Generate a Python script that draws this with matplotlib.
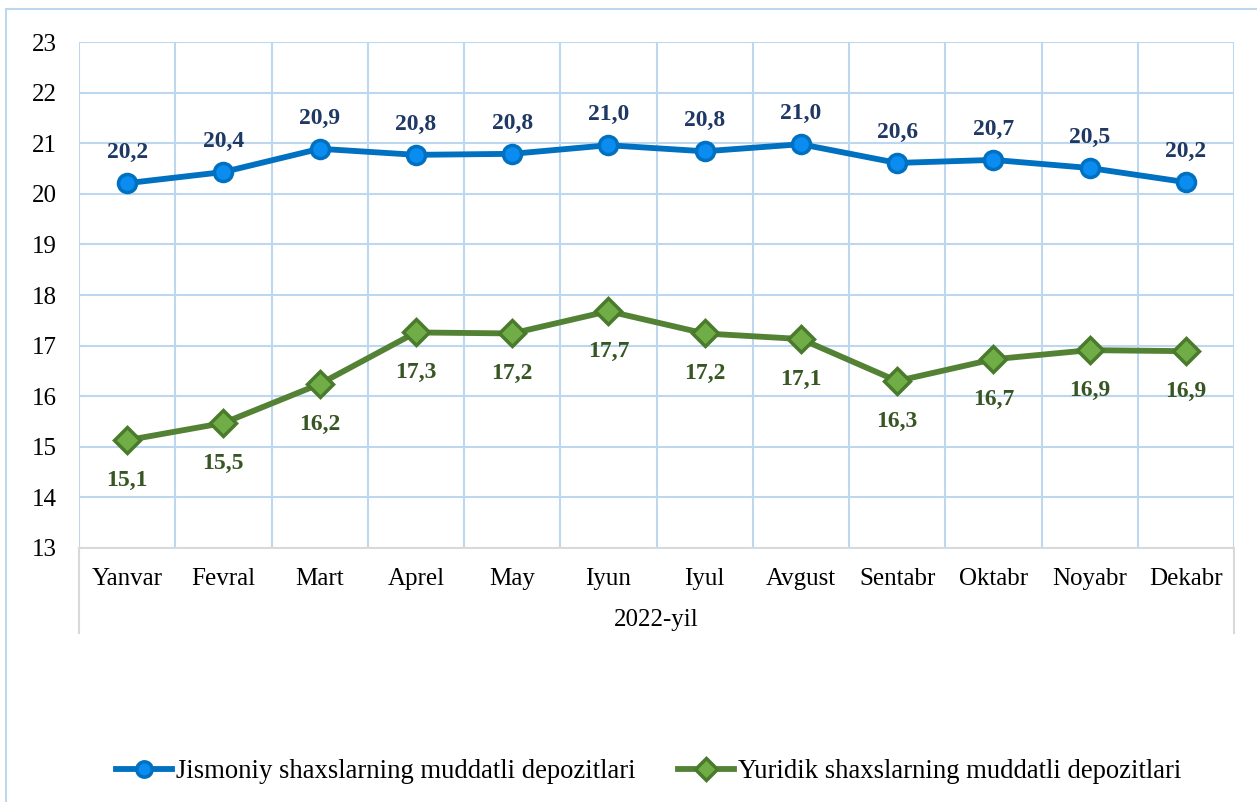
import numpy as np
import matplotlib as mpl
import matplotlib.pyplot as plt
from matplotlib.patches import Rectangle
from matplotlib.lines import Line2D

mpl.rcParams['font.family'] = ['Liberation Serif', 'DejaVu Serif']

months = ['Yanvar', 'Fevral', 'Mart', 'Aprel', 'May', 'Iyun',
          'Iyul', 'Avgust', 'Sentabr', 'Oktabr', 'Noyabr', 'Dekabr']
year_label = '2022-yil'
jismoniy = [20.21, 20.43, 20.89, 20.77, 20.79, 20.96,
            20.84, 20.98, 20.61, 20.67, 20.51, 20.23]
yuridik = [15.13, 15.47, 16.24, 17.26, 17.24, 17.68,
           17.24, 17.13, 16.30, 16.73, 16.91, 16.89]
name_j = 'Jismoniy shaxslarning muddatli depozitlari'
name_y = 'Yuridik shaxslarning muddatli depozitlari'

grid_c = '#bdd7ee'
axis_c = '#d9d9d9'

fig = plt.figure(figsize=(12.57, 8.02), dpi=100)
fig.patches.append(Rectangle((6 / 1257, -0.05), 1.2, 1 - 9 / 802 + 0.05,
                             transform=fig.transFigure, fill=False,
                             edgecolor=grid_c, linewidth=1.5))

ax = fig.add_axes([79 / 1257, 1 - 548 / 802, (1234 - 79) / 1257, (548 - 42) / 802])
x = np.arange(len(months))

ax.plot(x, jismoniy, color='#0070c0', lw=4.2, marker='o', ms=13,
        mfc='#0a8cf0', mec='#0070c0', mew=2.5, label=name_j, zorder=3)
ax.plot(x, yuridik, color='#548235', lw=4.2, marker='D', ms=13,
        mfc='#70ad47', mec='#4a7a2c', mew=2.5, label=name_y, zorder=3)

for xi, v in zip(x, jismoniy):
    ax.annotate(f'{v:.1f}'.replace('.', ','), (xi, v), xytext=(0, 22),
                textcoords='offset points', ha='center', va='center',
                fontsize=17, fontweight='bold', color='#1f3864')
for xi, v in zip(x, yuridik):
    ax.annotate(f'{v:.1f}'.replace('.', ','), (xi, v), xytext=(0, -29),
                textcoords='offset points', ha='center', va='center',
                fontsize=17, fontweight='bold', color='#375623')

ax.set_xlim(-0.5, len(months) - 0.5)
ax.set_ylim(13, 23)
ax.set_yticks(range(13, 24))
ax.set_xticks(x)
ax.set_xticklabels(months)
ax.set_xticks(np.arange(-0.5, len(months)), minor=True)
ax.tick_params(axis='x', which='both', length=0, pad=14.5, labelsize=18)
ax.tick_params(axis='y', length=0, pad=16, labelsize=18)
ax.grid(True, axis='y', color=grid_c, lw=1.5)
ax.grid(True, axis='x', which='minor', color=grid_c, lw=1.5)
ax.grid(False, axis='x', which='major')
ax.set_axisbelow(True)
for s in ['top', 'right', 'left']:
    ax.spines[s].set_visible(False)
ax.spines['bottom'].set_color(axis_c)
ax.spines['bottom'].set_linewidth(1.5)

# multi-level category axis separators
drop = (633 - 548) / (548 - 42)
for xe in [0, 1]:
    ax.add_line(Line2D([xe, xe], [0, -drop], transform=ax.transAxes,
                       color=axis_c, lw=1.5, clip_on=False))
ax.text(0.5, -(620 - 548) / (548 - 42), year_label, transform=ax.transAxes,
        ha='center', va='center', fontsize=18)

fig.legend(loc='center', bbox_to_anchor=(0.516, 1 - 772 / 802), ncol=2,
           frameon=False, fontsize=19.2, handlelength=2.1, handletextpad=0.15,
           columnspacing=1.6, markerscale=0.85)

fig.savefig('out.png', dpi=100)
